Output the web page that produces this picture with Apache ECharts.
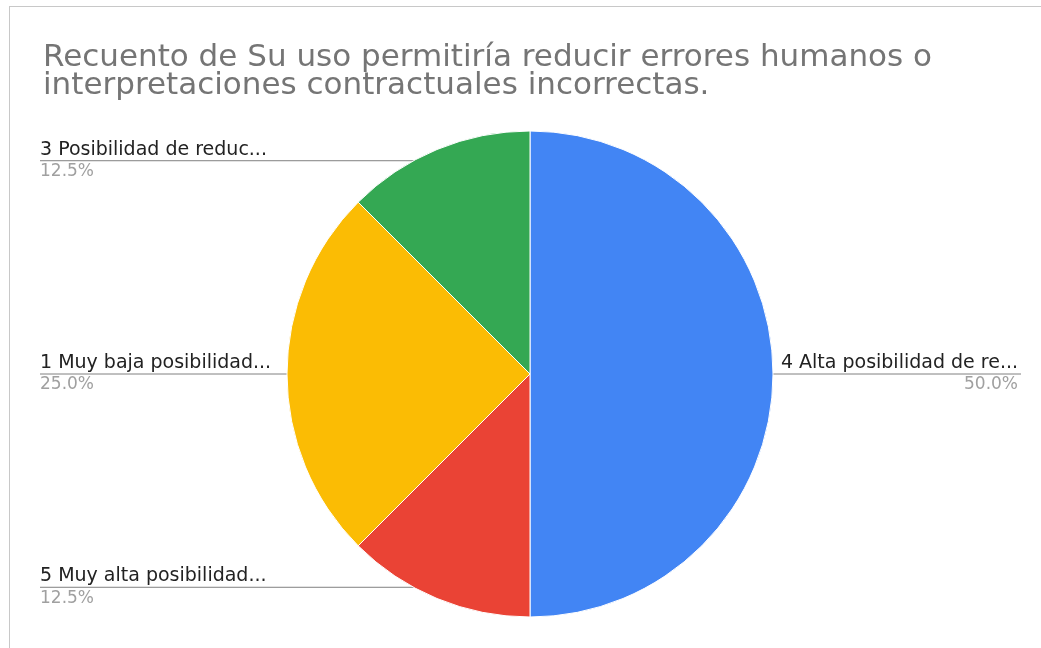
<!DOCTYPE html>
<html>
<head>
<meta charset="utf-8">
<script src="https://cdn.jsdelivr.net/npm/echarts@6/dist/echarts.min.js"></script>
<style>
html,body{margin:0;padding:0;background:#fff;}
#chart{width:1041px;height:648px;}
</style>
</head>
<body>
<div id="chart"></div>
<script>
const titleText = 'Recuento de Su uso permitiría reducir errores humanos o\ninterpretaciones contractuales incorrectas.';
const categories = ['4 Alta posibilidad de re...', '5 Muy alta posibilidad...', '1 Muy baja posibilidad...', '3 Posibilidad de reduc...'];
const counts = [4, 1, 2, 1];
const colors = ['#4285F4', '#EA4335', '#FBBC04', '#34A853'];

const CX = 530, CY = 374, R = 243;
const LEFT_X = 40, RIGHT_X = 1018;
const FONT = '"DejaVu Sans", "Liberation Sans", Arial, sans-serif';

const chart = echarts.init(document.getElementById('chart'), null, {renderer: 'canvas'});
const data = categories.map((c, i) => ({name: c, value: counts[i], itemStyle: {color: colors[i]}}));

chart.setOption({
  animation: false,
  title: {
    text: titleText,
    left: 38,
    top: 39,
    textStyle: {fontFamily: FONT, fontSize: 31, fontWeight: 'normal', color: '#757575', lineHeight: 28}
  },
  graphic: [
    {type: 'line', shape: {x1: 9, y1: 6.5, x2: 1041, y2: 6.5}, style: {stroke: '#c8c8c8', lineWidth: 1}, silent: true},
    {type: 'line', shape: {x1: 9.5, y1: 6, x2: 9.5, y2: 648}, style: {stroke: '#c8c8c8', lineWidth: 1}, silent: true}
  ],
  series: [{
    type: 'pie',
    center: [CX, CY],
    radius: R,
    startAngle: 90,
    clockwise: true,
    avoidLabelOverlap: false,
    itemStyle: {borderColor: '#ffffff', borderWidth: 1},
    label: {
      show: true,
      position: 'outside',
      formatter: p => '{n|' + p.name + '}\n{p|' + p.percent.toFixed(1) + '%}',
      rich: {
        n: {fontFamily: FONT, fontSize: 19, color: '#222222', lineHeight: 22},
        p: {fontFamily: FONT, fontSize: 17, color: '#a0a0a0', lineHeight: 22}
      }
    },
    labelLine: {show: true, length: 0, length2: 0, lineStyle: {color: '#808080', width: 1}},
    labelLayout: function (params) {
      const p0 = params.labelLinePoints ? params.labelLinePoints[0] : null;
      if (!p0) return {};
      const dx = p0[0] - CX, dy = p0[1] - CY;
      const sx = CX + dx * 0.95, sy = CY + dy * 0.95;
      if (dx < 0) {
        return {x: LEFT_X, y: sy, align: 'left', verticalAlign: 'middle',
          labelLinePoints: [[sx, sy], [sx, sy], [LEFT_X, sy]]};
      }
      return {x: RIGHT_X, y: sy, align: 'right', verticalAlign: 'middle',
        labelLinePoints: [[sx, sy], [sx, sy], [RIGHT_X + 3, sy]]};
    },
    data: data
  }]
});
</script>
</body>
</html>
